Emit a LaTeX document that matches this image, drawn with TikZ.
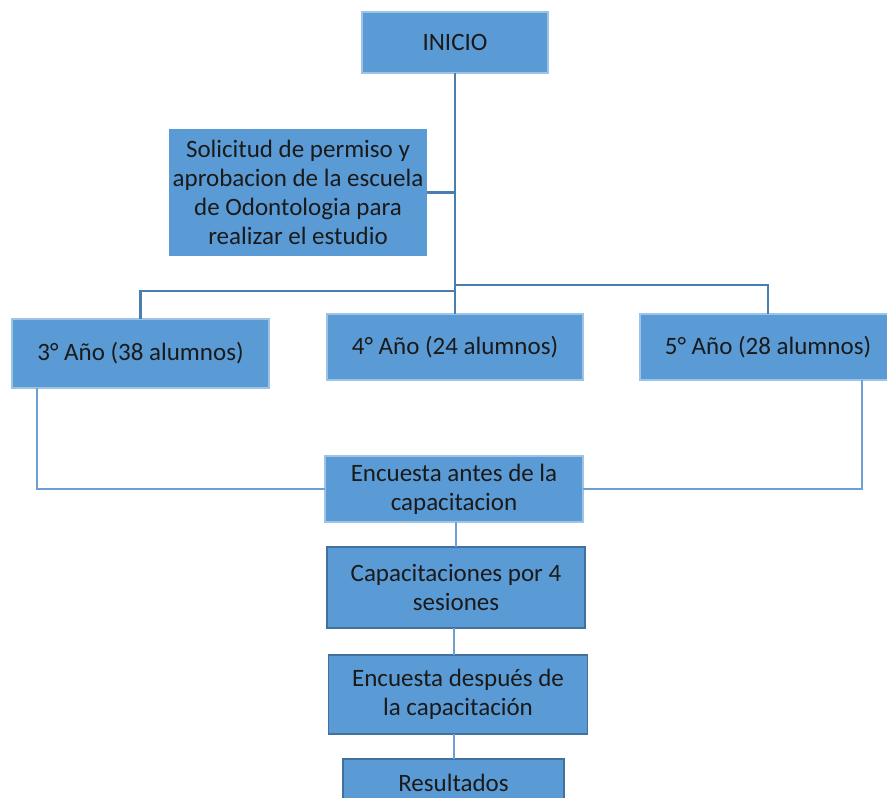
\documentclass[tikz,border=0pt]{standalone}
\usepackage{fontspec}
\setmainfont{Carlito}
\usetikzlibrary{calc}
\definecolor{boxfill}{HTML}{5B9BD5}
\definecolor{lightedge}{HTML}{9DC3E6}
\definecolor{darkedge}{HTML}{41719C}
\definecolor{trunk}{HTML}{4A7EB0}
\definecolor{thin}{HTML}{6C9FD3}
\definecolor{txt}{HTML}{1A1A1A}
\begin{document}
\begin{tikzpicture}[x=1pt,y=-1pt,
  base/.style={fill=boxfill,inner sep=0pt,outer sep=0pt,align=center,text=txt,
    font=\fontsize{25}{29}\selectfont},
  lbox/.style={base,draw=lightedge,line width=1.2pt},
  nbox/.style={base,draw=none},
  dbox/.style={base,draw=darkedge,line width=1.8pt},
  trunkline/.style={draw=trunk,line width=2.4pt},
  thinline/.style={draw=thin,line width=1.6pt}]
\clip (0,0) rectangle (887,798);
\fill[white] (0,0) rectangle (887,798);

\node[lbox,minimum width=186,minimum height=61] (ini) at (455,42.5) {INICIO};
\node[nbox,minimum width=258,minimum height=127] (sol) at (298,192.5)
  {Solicitud de permiso y\\aprobacion de la escuela\\de Odontologia para\\realizar el estudio};
\node[lbox,minimum width=257,minimum height=69] (y3) at (140.5,353.5) {3° Año (38 alumnos)};
\node[lbox,minimum width=256,minimum height=66] (y4) at (455,347) {4° Año (24 alumnos)};
\node[lbox,minimum width=256,minimum height=66] (y5) at (768,347) {5° Año (28 alumnos)};
\node[lbox,minimum width=258,minimum height=66] (ea) at (454,489) {Encuesta antes de la\\capacitacion};
\node[dbox,minimum width=258,minimum height=81] (cap) at (456,587.5) {Capacitaciones por 4\\sesiones};
\node[dbox,minimum width=259,minimum height=79] (ed) at (458,694.5) {Encuesta después de\\la capacitación};
\node[dbox,minimum width=221,minimum height=48] (res) at (453.5,783) {Resultados};

\coordinate (jl) at (455,291);
\coordinate (jr) at (455,285);
\coordinate (a1) at ($(ea.south)+(2,0)$);
\coordinate (a2) at ($(cap.south)+(-2,0)$);
\coordinate (a3) at ($(ed.south)+(-4,0)$);

\draw[trunkline] (ini.south) -- (y4.north);
\draw[trunkline] (sol.east) -- (sol.east -| ini.south);
\draw[trunkline] (jl) -| (y3.north);
\draw[trunkline] (jr) -| (y5.north);

\draw[thinline] ($(y3.south west)+(25,0)$) |- (ea.west);
\draw[thinline] ($(y5.south west)+(222,0)$) |- (ea.east);
\draw[thinline] (a1) -- (a1 |- cap.north);
\draw[thinline] (a2) -- (a2 |- ed.north);
\draw[thinline] (a3) -- (a3 |- res.north);
\end{tikzpicture}
\end{document}
